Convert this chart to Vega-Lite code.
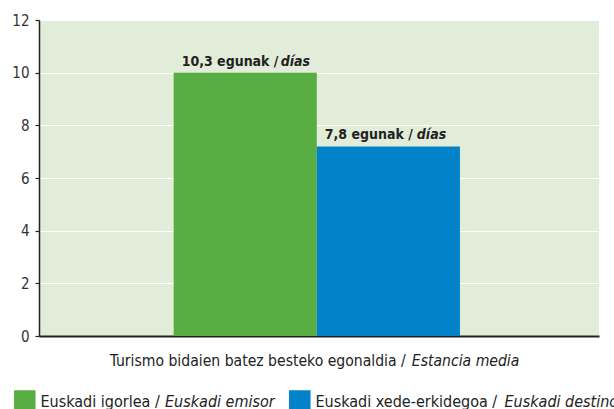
{
  "$schema": "https://vega.github.io/schema/vega-lite/v6.json",
  "background": "white",
  "padding": {"left": 11, "top": 13, "right": 0, "bottom": 0},
  "bounds": "flush",
  "spacing": 53,
  "resolve": {"scale": {"x": "independent"}},
  "config": {
    "font": "DejaVu Sans Condensed, DejaVu Sans, sans-serif",
    "view": {"stroke": null}
  },
  "data": {
    "values": [
      {"eu": "Euskadi igorlea", "eu_legend": "Euskadi igorlea /", "es": "Euskadi emisor", "value": 10.0, "label": "10,3 egunak /", "unit": "días", "title_eu": "Turismo bidaien batez besteko egonaldia /", "title_es": "Estancia media"},
      {"eu": "Euskadi xede-erkidegoa", "eu_legend": "Euskadi xede-erkidegoa /", "es": "Euskadi destino", "value": 7.2, "label": "7,8 egunak /", "unit": "días", "title_eu": "Turismo bidaien batez besteko egonaldia /", "title_es": "Estancia media"}
    ]
  },
  "vconcat": [
    {
      "width": 560,
      "height": 316,
      "view": {"fill": "#e2edd9", "stroke": null},
      "encoding": {
        "x": {
          "field": "eu", "type": "nominal", "sort": null,
          "scale": {"paddingInner": 0, "paddingOuter": 0.956, "align": 0.492},
          "axis": {"labels": false, "ticks": false, "title": null, "grid": false, "domainColor": "#222", "domainWidth": 2}
        }
      },
      "layer": [
        {
          "mark": {"type": "bar"},
          "encoding": {
            "y": {
              "field": "value", "type": "quantitative",
              "scale": {"domain": [0, 12], "nice": false},
              "axis": {
                "values": [0, 2, 4, 6, 8, 10, 12], "title": null,
                "grid": true, "gridColor": "white", "gridWidth": 1.2,
                "domainColor": "#222", "domainWidth": 1.5,
                "tickColor": "#222", "tickSize": 4, "tickWidth": 1.2,
                "labelPadding": 6, "labelFontSize": 15, "labelColor": "#333"
              }
            },
            "color": {"field": "eu", "type": "nominal", "sort": null, "scale": {"range": ["#58ae43", "#0283c9"]}, "legend": null}
          }
        },
        {
          "mark": {"type": "text", "align": "left", "baseline": "alphabetic", "dx": 8, "dy": -7, "fontSize": 14, "color": "#222", "fontWeight": "bold"},
          "encoding": {
            "x": {"field": "eu", "type": "nominal", "sort": null, "bandPosition": 0},
            "y": {"field": "value", "type": "quantitative"},
            "text": {"field": "label"}
          }
        },
        {
          "transform": [{"filter": "datum.eu == 'Euskadi igorlea'"}],
          "mark": {"type": "text", "align": "left", "baseline": "alphabetic", "dx": 107, "dy": -7, "fontSize": 14, "color": "#222", "fontWeight": "bold", "fontStyle": "italic"},
          "encoding": {
            "x": {"field": "eu", "type": "nominal", "sort": null, "bandPosition": 0},
            "y": {"field": "value", "type": "quantitative"},
            "text": {"field": "unit"}
          }
        },
        {
          "transform": [{"filter": "datum.eu == 'Euskadi xede-erkidegoa'"}],
          "mark": {"type": "text", "align": "left", "baseline": "alphabetic", "dx": 100, "dy": -7, "fontSize": 14, "color": "#222", "fontWeight": "bold", "fontStyle": "italic"},
          "encoding": {
            "x": {"field": "eu", "type": "nominal", "sort": null, "bandPosition": 0},
            "y": {"field": "value", "type": "quantitative"},
            "text": {"field": "unit"}
          }
        },
        {
          "transform": [{"filter": "datum.eu == 'Euskadi igorlea'"}],
          "mark": {"type": "text", "align": "right", "baseline": "alphabetic", "dx": 89, "dy": 30, "fontSize": 15.6, "color": "#222"},
          "encoding": {
            "x": {"field": "eu", "type": "nominal", "sort": null, "bandPosition": 1},
            "y": {"datum": 0, "type": "quantitative"},
            "text": {"field": "title_eu"}
          }
        },
        {
          "transform": [{"filter": "datum.eu == 'Euskadi igorlea'"}],
          "mark": {"type": "text", "align": "left", "baseline": "alphabetic", "dx": 95, "dy": 30, "fontSize": 15.6, "color": "#222", "fontStyle": "italic"},
          "encoding": {
            "x": {"field": "eu", "type": "nominal", "sort": null, "bandPosition": 1},
            "y": {"datum": 0, "type": "quantitative"},
            "text": {"field": "title_es"}
          }
        }
      ]
    },
    {
      "width": 550,
      "height": 22,
      "encoding": {
        "x": {"field": "eu", "type": "nominal", "sort": null, "bandPosition": 0, "scale": {"type": "band", "paddingInner": 0, "paddingOuter": 0}, "axis": null}
      },
      "layer": [
        {
          "mark": {"type": "square", "size": 462, "opacity": 1, "xOffset": -14.2, "yOffset": 1},
          "encoding": {
            "color": {"field": "eu", "type": "nominal", "sort": null, "scale": {"range": ["#58ae43", "#0283c9"]}, "legend": null}
          }
        },
        {
          "mark": {"type": "text", "align": "left", "baseline": "alphabetic", "dx": 1.5, "dy": 6.5, "fontSize": 16, "color": "#222"},
          "encoding": {"text": {"field": "eu_legend"}}
        },
        {
          "transform": [{"filter": "datum.eu == 'Euskadi igorlea'"}],
          "mark": {"type": "text", "align": "left", "baseline": "alphabetic", "dx": 126, "dy": 6.5, "fontSize": 16, "color": "#222", "fontStyle": "italic"},
          "encoding": {"text": {"field": "es"}}
        },
        {
          "transform": [{"filter": "datum.eu == 'Euskadi xede-erkidegoa'"}],
          "mark": {"type": "text", "align": "left", "baseline": "alphabetic", "dx": 190.5, "dy": 6.5, "fontSize": 16, "color": "#222", "fontStyle": "italic"},
          "encoding": {"text": {"field": "es"}}
        }
      ]
    }
  ]
}
